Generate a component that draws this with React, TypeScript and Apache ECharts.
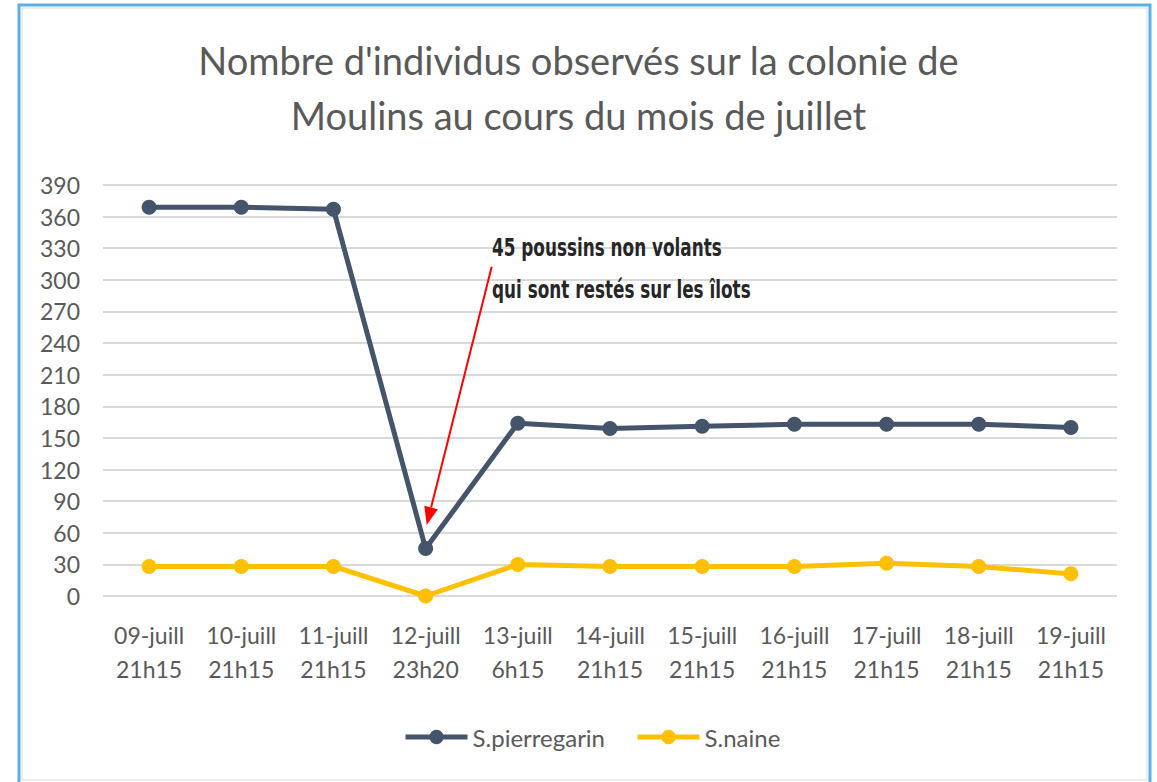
import React, { useEffect, useRef } from "react";
import * as echarts from "echarts";

const categories = [
  "09-juill\n21h15",
  "10-juill\n21h15",
  "11-juill\n21h15",
  "12-juill\n23h20",
  "13-juill\n6h15",
  "14-juill\n21h15",
  "15-juill\n21h15",
  "16-juill\n21h15",
  "17-juill\n21h15",
  "18-juill\n21h15",
  "19-juill\n21h15",
];
const pierregarin = [369, 369, 367, 45, 164, 159, 161, 163, 163, 163, 160];
const naine = [28, 28, 28, 0, 30, 28, 28, 28, 31, 28, 21];
const titleLines = [
  "Nombre d'individus observés sur la colonie de",
  "Moulins au cours du mois de juillet",
];
const annotationLines = ["45 poussins non volants", "qui sont restés sur les îlots"];

const FONT = "Lato, 'Open Sans', sans-serif";
const TEXT = "#595959";

export default function App() {
  const ref = useRef<HTMLDivElement>(null);
  useEffect(() => {
    if (!ref.current) return;
    const chart = echarts.init(ref.current, undefined, { renderer: "svg" });
    // arrow geometry (annotation, pixel space)
    const tail = [491.7, 266.7];
    const tip = [426.7, 525];
    const dx = tip[0] - tail[0];
    const dy = tip[1] - tail[1];
    const len = Math.sqrt(dx * dx + dy * dy);
    const ux = dx / len;
    const uy = dy / len;
    const nx = -uy;
    const ny = ux;
    const headLen = 18;
    const headHalf = 7;
    const bx = tip[0] - headLen * ux;
    const by = tip[1] - headLen * uy;

    chart.setOption({
      animation: false,
      backgroundColor: "#ffffff",
      title: {
        text: titleLines.join("\n"),
        left: "center",
        top: 27,
        textStyle: {
          fontFamily: FONT,
          fontSize: 38,
          fontWeight: "normal",
          color: TEXT,
          lineHeight: 55,
        },
      },
      grid: { left: 103, right: 40, top: 185, bottom: 186, containLabel: false },
      xAxis: {
        type: "category",
        data: categories,
        boundaryGap: true,
        axisLine: { show: false },
        axisTick: { show: false },
        axisLabel: {
          fontFamily: FONT,
          fontSize: 23,
          color: TEXT,
          lineHeight: 34,
          margin: 22,
          interval: 0,
        },
      },
      yAxis: {
        type: "value",
        min: 0,
        max: 390,
        interval: 30,
        axisLine: { show: false },
        axisTick: { show: false },
        axisLabel: {
          fontFamily: FONT,
          fontSize: 23,
          color: TEXT,
          margin: 23,
        },
        splitLine: { lineStyle: { color: "#d9d9d9", width: 2 } },
      },
      legend: {
        bottom: 28,
        left: 398,
        itemWidth: 62,
        itemHeight: 18,
        itemGap: 30,
        lineStyle: { width: 5 },
        textStyle: { fontFamily: FONT, fontSize: 24, color: TEXT },
        data: ["S.pierregarin", "S.naine"],
      },
      series: [
        {
          name: "S.pierregarin",
          type: "line",
          data: pierregarin,
          symbol: "circle",
          symbolSize: 15,
          lineStyle: { color: "#44546a", width: 5 },
          itemStyle: { color: "#44546a" },
          z: 3,
        },
        {
          name: "S.naine",
          type: "line",
          data: naine,
          symbol: "circle",
          symbolSize: 15,
          lineStyle: { color: "#ffc000", width: 5 },
          itemStyle: { color: "#ffc000" },
          z: 2,
        },
      ],
      graphic: [
        {
          type: "rect",
          shape: { x: 19, y: 5, width: 1131, height: 800 },
          style: { fill: "none", stroke: "#5ab0e2", lineWidth: 3 },
          silent: true,
          z: 10,
        },
        {
          type: "rect",
          shape: { x: 22, y: 8, width: 1125, height: 772 },
          style: { fill: "none", stroke: "#dcdcdc", lineWidth: 1 },
          silent: true,
          z: 10,
        },
        {
          type: "text",
          x: 492,
          y: 227,
          scaleX: 0.78,
          style: {
            text: annotationLines.join("\n"),
            font: "bold 24px 'Liberation Sans Narrow', 'DejaVu Sans Condensed', sans-serif",
            fill: "#262626",
            lineHeight: 42,
          },
          z: 20,
        },
        {
          type: "line",
          shape: { x1: tail[0], y1: tail[1], x2: bx, y2: by },
          style: { stroke: "#ff0000", lineWidth: 2 },
          z: 20,
        },
        {
          type: "polygon",
          shape: {
            points: [
              [tip[0], tip[1]],
              [bx + headHalf * nx, by + headHalf * ny],
              [bx - headHalf * nx, by - headHalf * ny],
            ],
          },
          style: { fill: "#ff0000" },
          z: 20,
        },
      ],
    });
    return () => chart.dispose();
  }, []);
  return (
    <div
      ref={ref}
      style={{ position: "fixed", left: 0, top: 0, width: 1157, height: 782 }}
    />
  );
}
